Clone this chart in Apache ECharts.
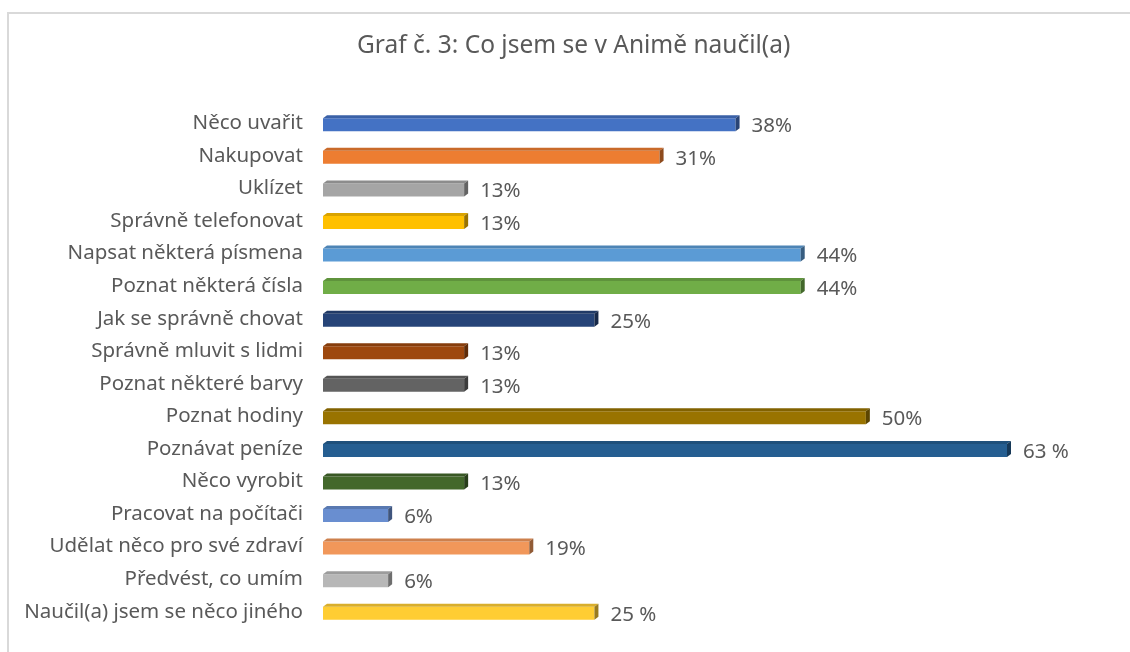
<!DOCTYPE html>
<html><head><meta charset="utf-8">
<script src="https://cdn.jsdelivr.net/npm/echarts@6/dist/echarts.min.js"></script>
<style>html,body{margin:0;padding:0;background:#fff}#c{width:1130px;height:652px}</style>
</head><body><div id="c"></div>
<script>
const categories = ["Něco uvařit","Nakupovat","Uklízet","Správně telefonovat","Napsat některá písmena","Poznat některá čísla","Jak se správně chovat","Správně mluvit s lidmi","Poznat některé barvy","Poznat hodiny","Poznávat peníze","Něco vyrobit","Pracovat na počítači","Udělat něco pro své zdraví","Předvést, co umím","Naučil(a) jsem se něco jiného"];
const values = [38,31,13,13,44,44,25,13,13,50,63,13,6,19,6,25];
const valueLabels = ["38%","31%","13%","13%","44%","44%","25%","13%","13%","50%","63 %","13%","6%","19%","6%","25 %"];
const barColors = ["#4472C4","#ED7D31","#A5A5A5","#FFC000","#5B9BD5","#70AD47","#264478","#9E480E","#636363","#997300","#255E91","#43682B","#698ED0","#F1975A","#B7B7B7","#FFCD33"];
const FONT = "'Noto Sans', sans-serif";

function shade(hex, f){
  const n = parseInt(hex.slice(1),16);
  const r = Math.round(((n>>16)&255)*f), g = Math.round(((n>>8)&255)*f), b = Math.round((n&255)*f);
  return 'rgb('+r+','+g+','+b+')';
}

const chart = echarts.init(document.getElementById('c'));
chart.setOption({
  animation:false,
  backgroundColor:'#fff',
  title:{text:'Graf č. 3: Co jsem se v Animě naučil(a)', left:352, top:29,
    textStyle:{fontFamily:FONT,fontSize:24.5,fontWeight:'normal',color:'#595959'}},
  graphic:[
    {type:'rect',shape:{x:7,y:12,width:1123,height:2},style:{fill:'#d9d9d9'}},
    {type:'rect',shape:{x:7,y:12,width:2,height:640},style:{fill:'#d9d9d9'}}
  ],
  grid:{left:323,right:47,top:107,bottom:24,containLabel:false},
  xAxis:{type:'value',min:0,max:70,show:false},
  yAxis:{type:'category',data:categories,inverse:true,
    axisLine:{show:false},axisTick:{show:false},splitLine:{show:false},
    axisLabel:{margin:20,fontFamily:FONT,fontSize:20.5,color:'#595959',padding:[6,0,0,0]}},
  series:[{
    type:'custom',
    data: values.map((v,i)=>[v,i]),
    encode:{x:0,y:1},
    renderItem:function(params, api){
      const i = params.dataIndex;
      const v = api.value(0), c = api.value(1);
      const p0 = api.coord([0,c]), p1 = api.coord([v,c]);
      const yc = p0[1], x0 = p0[0], x1 = p1[0];
      const col = barColors[i];
      return {type:'group',children:[
        {type:'rect',shape:{x:x0,y:yc-5,width:x1-x0,height:13},style:{fill:col}},
        {type:'polygon',shape:{points:[[x0,yc-5],[x0+4,yc-8],[x1+4,yc-8],[x1,yc-5]]},style:{fill:shade(col,0.85)}},
        {type:'polygon',shape:{points:[[x1,yc-5],[x1+4,yc-8],[x1+4,yc+5],[x1,yc+8]]},style:{fill:shade(col,0.6)}},
        {type:'text',style:{text:valueLabels[i],x:x1+16,y:yc+3,textVerticalAlign:'middle',
          font:'20.5px '+FONT, fill:'#595959'}}
      ]};
    }
  }]
});
</script></body></html>
